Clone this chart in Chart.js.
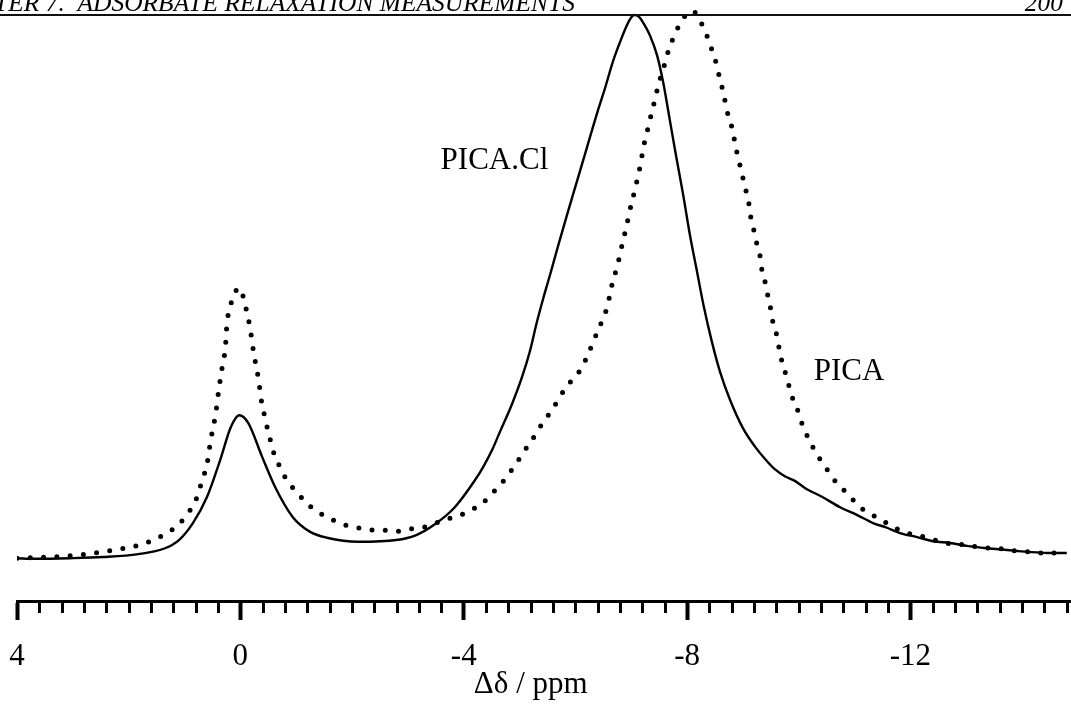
<!DOCTYPE html>
<html><head><meta charset="utf-8">
<script src="https://cdn.jsdelivr.net/npm/chart.js@4.4.1/dist/chart.umd.min.js"></script>
<style>html,body{margin:0;padding:0;background:#fff;} #wrap{width:1071px;height:711px;position:relative;}</style>
</head><body><div id="wrap"><canvas id="c"></canvas></div>
<script>
// ---- data (chemical shift difference in ppm, intensity in arbitrary units) ----
const solidPpm = [4.00,3.70,3.05,2.46,1.83,1.35,1.10,0.85,0.60,0.36,0.17,0.02,-0.14,-0.39,-0.62,-0.94,-1.25,-1.55,-2.11,-2.79,-3.16,-3.47,-3.84,-4.20,-4.35,-4.51,-4.65,-4.86,-5.04,-5.19,-5.31,-5.42,-5.55,-5.69,-5.85,-6.03,-6.21,-6.39,-6.53,-6.67,-6.80,-6.91,-6.98,-7.05,-7.14,-7.25,-7.34,-7.46,-7.57,-7.69,-7.80,-7.93,-8.05,-8.18,-8.30,-8.45,-8.59,-8.77,-9.00,-9.22,-9.40,-9.57,-9.75,-9.93,-10.11,-10.43,-10.74,-11.04,-11.33,-11.58,-11.81,-12.12,-12.40,-12.71,-13.01,-13.37,-13.73,-14.09,-14.45,-14.80];
const solidInt = [0.073,0.072,0.073,0.075,0.080,0.090,0.104,0.133,0.177,0.241,0.297,0.317,0.304,0.246,0.195,0.143,0.118,0.108,0.101,0.104,0.113,0.130,0.160,0.206,0.229,0.258,0.289,0.335,0.381,0.428,0.476,0.515,0.558,0.606,0.659,0.717,0.775,0.833,0.875,0.920,0.954,0.980,0.993,1.000,0.997,0.981,0.964,0.932,0.886,0.821,0.761,0.693,0.625,0.561,0.502,0.440,0.391,0.343,0.295,0.263,0.242,0.225,0.213,0.205,0.193,0.177,0.160,0.147,0.133,0.125,0.116,0.109,0.102,0.099,0.094,0.090,0.087,0.084,0.082,0.082];
const dottedPpm = [4.00,3.07,2.14,1.69,1.28,1.10,0.94,0.81,0.67,0.60,0.53,0.44,0.38,0.31,0.27,0.24,0.19,0.13,0.01,-0.07,-0.12,-0.17,-0.24,-0.32,-0.39,-0.44,-0.49,-0.55,-0.62,-0.71,-0.82,-0.96,-1.12,-1.28,-1.46,-1.66,-1.86,-2.11,-2.34,-2.57,-2.79,-3.04,-3.29,-3.50,-3.72,-3.95,-4.17,-4.36,-4.51,-4.67,-4.79,-4.94,-5.06,-5.20,-5.33,-5.47,-5.60,-5.72,-5.85,-5.99,-6.12,-6.23,-6.31,-6.40,-6.49,-6.57,-6.62,-6.67,-6.74,-6.80,-6.85,-6.91,-6.96,-7.01,-7.07,-7.12,-7.17,-7.21,-7.26,-7.32,-7.37,-7.43,-7.48,-7.55,-7.62,-7.68,-7.77,-7.87,-8.00,-8.09,-8.18,-8.28,-8.37,-8.45,-8.52,-8.57,-8.63,-8.68,-8.73,-8.80,-8.89,-8.95,-9.00,-9.06,-9.11,-9.14,-9.20,-9.25,-9.31,-9.34,-9.40,-9.45,-9.50,-9.54,-9.61,-9.65,-9.70,-9.77,-9.83,-9.90,-9.99,-10.06,-10.15,-10.26,-10.38,-10.51,-10.65,-10.79,-10.94,-11.10,-11.26,-11.45,-11.67,-11.87,-12.08,-12.31,-12.53,-12.76,-13.01,-13.21,-13.46,-13.66,-13.91,-14.11,-14.32,-14.55,-14.77];
const dottedInt = [0.073,0.077,0.089,0.099,0.118,0.131,0.150,0.169,0.210,0.232,0.275,0.321,0.365,0.408,0.430,0.474,0.498,0.520,0.534,0.512,0.491,0.468,0.423,0.381,0.334,0.314,0.292,0.270,0.246,0.229,0.208,0.191,0.174,0.159,0.148,0.138,0.130,0.125,0.121,0.121,0.119,0.123,0.126,0.133,0.140,0.147,0.157,0.169,0.184,0.200,0.215,0.234,0.253,0.271,0.292,0.311,0.329,0.348,0.367,0.382,0.399,0.422,0.440,0.461,0.481,0.502,0.524,0.546,0.568,0.592,0.614,0.637,0.660,0.681,0.703,0.725,0.747,0.770,0.792,0.814,0.836,0.857,0.879,0.901,0.923,0.944,0.964,0.985,1.002,1.007,1.000,0.981,0.961,0.939,0.918,0.898,0.875,0.853,0.831,0.809,0.766,0.742,0.722,0.698,0.676,0.655,0.631,0.609,0.587,0.565,0.543,0.519,0.497,0.474,0.452,0.430,0.408,0.386,0.365,0.343,0.323,0.302,0.282,0.261,0.242,0.224,0.205,0.191,0.176,0.160,0.150,0.140,0.128,0.118,0.113,0.108,0.101,0.097,0.096,0.092,0.090,0.089,0.085,0.084,0.082,0.082,0.082];
const seriesNames = ['PICA.Cl', 'PICA'];
const majorTicks = [4, 0, -4, -8, -12];
const minorStep = 0.4;
const xMax = 4, xMin = -14.875;
const yMin = 0, yMax = 1.0256;
const axisTitle = 'Δδ / ppm';
const headerLeft = 'TER 7.  ADSORBATE RELAXATION MEASUREMENTS';
const headerRight = '200';
// label anchors in data units: [ppm, intensity]
const labelPICACl = [-4.55, 0.737];
const labelPICA = [-10.90, 0.377];
const titleAnchorPpm = -5.20;

const minorTicks = [];
for (let i = 0; ; i++) {
  const v = +(xMax - i * minorStep).toFixed(2);
  if (v < xMin) break;
  if (!majorTicks.includes(v)) minorTicks.push(v);
}

const SERIF = "'Liberation Serif','Times New Roman',serif";

const decor = {
  id: 'decor',
  afterDraw(chart) {
    const ctx = chart.ctx;
    const xs = chart.scales.x, ys = chart.scales.y;
    const base = chart.chartArea.bottom;
    ctx.save();
    // minor ticks
    ctx.strokeStyle = '#000';
    ctx.lineWidth = 3;
    ctx.lineCap = 'butt';
    minorTicks.forEach(v => {
      const px = Math.round(xs.getPixelForValue(v)) + 0.5;
      ctx.beginPath(); ctx.moveTo(px, base); ctx.lineTo(px, base + 12); ctx.stroke();
    });
    // series labels
    ctx.fillStyle = '#000';
    ctx.font = '31px ' + SERIF;
    ctx.textAlign = 'center';
    ctx.textBaseline = 'alphabetic';
    ctx.fillText(seriesNames[0], xs.getPixelForValue(labelPICACl[0]), ys.getPixelForValue(labelPICACl[1]));
    ctx.fillText(seriesNames[1], xs.getPixelForValue(labelPICA[0]), ys.getPixelForValue(labelPICA[1]));
    // axis title
    ctx.fillText(axisTitle, xs.getPixelForValue(titleAnchorPpm), 693);
    // running header
    ctx.font = 'italic 21px ' + SERIF;
    const w = ctx.measureText(headerLeft).width;
    const fs = 21 * 581 / w;
    ctx.font = 'italic ' + fs.toFixed(2) + 'px ' + SERIF;
    ctx.textAlign = 'left';
    ctx.fillText(headerLeft, -6, 11);
    ctx.textAlign = 'right';
    ctx.fillText(headerRight, 1063, 11);
    ctx.strokeStyle = '#111';
    ctx.lineWidth = 2;
    ctx.beginPath(); ctx.moveTo(0, 15); ctx.lineTo(1071, 15); ctx.stroke();
    ctx.restore();
  }
};

new Chart(document.getElementById('c'), {
  type: 'line',
  data: {
    datasets: [
      {
        label: seriesNames[0],
        data: solidPpm.map((x, i) => ({ x, y: solidInt[i] })),
        borderColor: '#000', borderWidth: 2.4, pointRadius: 0,
        cubicInterpolationMode: 'monotone', fill: false
      },
      {
        label: seriesNames[1],
        data: dottedPpm.map((x, i) => ({ x, y: dottedInt[i] })),
        borderColor: '#000', borderWidth: 5, pointRadius: 0,
        borderDash: [0, 13.3], borderCapStyle: 'round',
        cubicInterpolationMode: 'monotone', fill: false
      }
    ]
  },
  options: {
    responsive: true, maintainAspectRatio: false, animation: false,
    layout: { padding: { left: 17, right: 0, top: 0, bottom: 0 } },
    plugins: { legend: { display: false }, tooltip: { enabled: false }, title: { display: false } },
    scales: {
      x: {
        type: 'linear', reverse: true, min: xMin, max: xMax,
        afterBuildTicks: s => { s.ticks = majorTicks.map(v => ({ value: v })); },
        afterFit: s => { s.height = 110; s.paddingLeft = 0; s.paddingRight = 0; },
        ticks: { autoSkip: false, maxRotation: 0, padding: 18, color: '#000',
          font: { family: SERIF, size: 31 }, callback: v => String(v) },
        grid: { drawOnChartArea: false, drawTicks: true, tickLength: 19, tickWidth: 4, tickColor: '#000' },
        border: { display: true, color: '#000', width: 3 }
      },
      y: { display: false, min: yMin, max: yMax }
    }
  },
  plugins: [decor]
});
</script>
</body></html>
